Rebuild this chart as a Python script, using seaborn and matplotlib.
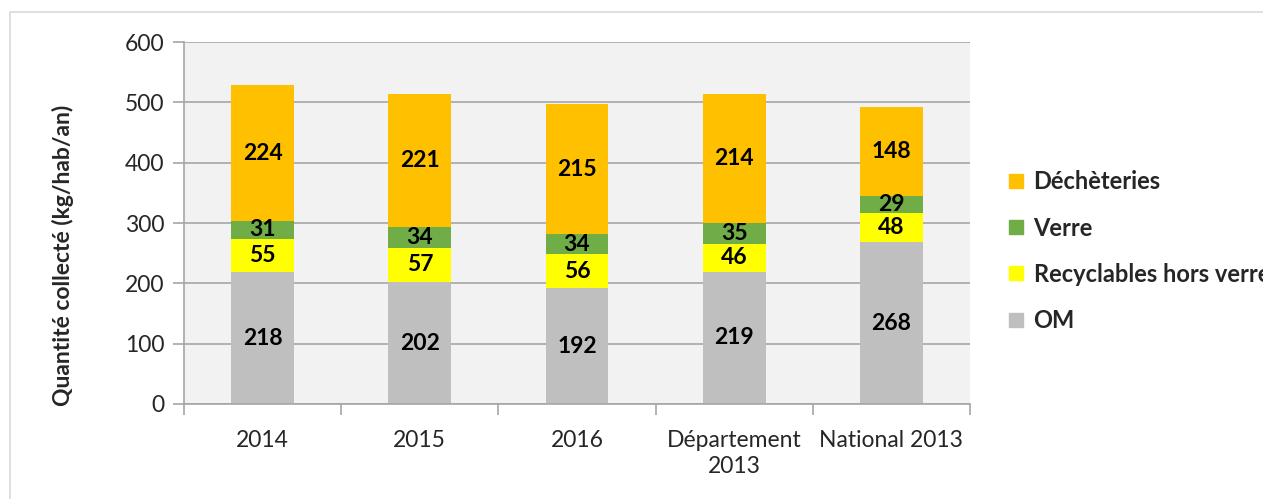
import numpy as np
import pandas as pd
import matplotlib
matplotlib.use("Agg")
import matplotlib.pyplot as plt
import seaborn as sns
from matplotlib.lines import Line2D
from matplotlib.patches import Rectangle

categories = ["2014", "2015", "2016", "Département\n2013", "National 2013"]
om = [218, 202, 192, 219, 268]
recyclables = [55, 57, 56, 46, 48]
verre = [31, 34, 34, 35, 29]
decheteries = [224, 221, 215, 214, 148]

series_names = ["OM", "Recyclables hors verre", "Verre", "Déchèteries"]
series_values = [om, recyclables, verre, decheteries]
series_colors = ["#BFBFBF", "#FFFF00", "#70AD47", "#FFC000"]

sns.set_theme(style="white")
plt.rcParams["font.family"] = ["Lato", "DejaVu Sans"]

df = pd.DataFrame(dict(zip(series_names, series_values)), index=categories)
cum = df.cumsum(axis=1)
cum["cat"] = categories

fig = plt.figure(figsize=(12.63, 4.99), dpi=100)
fig.patches.append(Rectangle((10 / 1263, -0.1), 1.2, 1 - 12 / 499 + 0.1,
                             transform=fig.transFigure, fill=False,
                             edgecolor="#D9D9D9", linewidth=1.2))
ax = fig.add_axes([184 / 1263, 1 - 404 / 499, (970 - 184) / 1263, (404 - 42) / 499])
ax.set_facecolor("#F2F2F2")

# draw tallest first so each smaller cumulative layer sits on top
for name, color in reversed(list(zip(series_names, series_colors))):
    sns.barplot(data=cum, x="cat", y=name, color=color, width=0.4,
                saturation=1, linewidth=0, ax=ax, zorder=2)

# segment labels
for i in range(len(categories)):
    bottom = 0
    for name in series_names:
        v = df[name].iloc[i]
        ax.text(i, bottom + v / 2, str(v), ha="center", va="center",
                fontsize=16.5, fontweight="bold", color="black", zorder=3)
        bottom += v

ax.set_ylim(0, 600)
ax.set_xlim(-0.5, len(categories) - 0.5)
ax.set_yticks(np.arange(0, 601, 100))
ax.yaxis.grid(True, color="#A6A6A6", linewidth=1.2, zorder=0)
ax.set_axisbelow(True)
for s in ["top", "right"]:
    ax.spines[s].set_visible(False)
for s in ["left", "bottom"]:
    ax.spines[s].set_color("#A6A6A6")
    ax.spines[s].set_linewidth(1.2)

ax.tick_params(axis="y", length=8, width=1.2, color="#A6A6A6", labelsize=16.5,
               left=True, pad=6)
ax.set_xticks(range(len(categories)))
ax.set_xticklabels(categories, fontsize=16.5, va="top", linespacing=1.3)
ax.tick_params(axis="x", length=0, pad=19)
ax.set_xticks(np.arange(-0.5, len(categories)), minor=True)
ax.tick_params(axis="x", which="minor", length=8, width=1.2, color="#A6A6A6",
               bottom=True)

ax.set_xlabel("")
ax.set_ylabel("Quantité collecté (kg/hab/an)", fontsize=16.5, fontweight="bold")
ax.yaxis.set_label_coords(-0.14, 0.41)

handles = [Line2D([], [], marker="s", linestyle="", markersize=10,
                  markerfacecolor=c, markeredgecolor=c)
           for c in reversed(series_colors)]
fig.legend(handles, list(reversed(series_names)), loc="upper left",
           bbox_to_anchor=(997 / 1263, 1 - 161 / 499), frameon=False,
           prop={"size": 17, "weight": "bold"}, labelspacing=0.98,
           handlelength=0.8, handletextpad=0.35, borderaxespad=0)

fig.savefig("out.png", dpi=100)
